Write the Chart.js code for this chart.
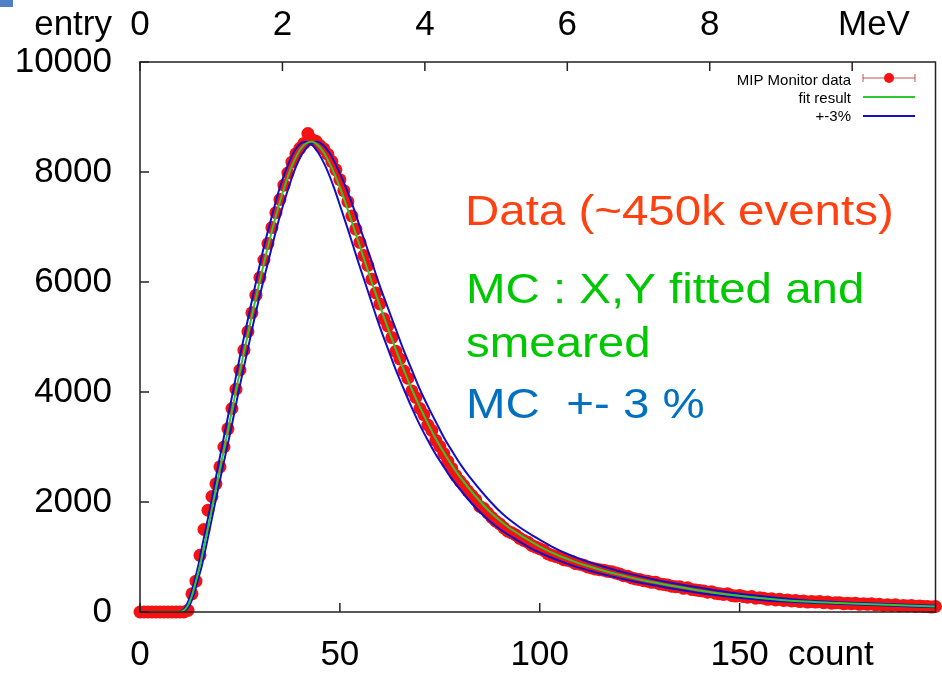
<!DOCTYPE html>
<html>
<head>
<meta charset="utf-8">
<script src="https://cdn.jsdelivr.net/npm/chart.js@4.4.1/dist/chart.umd.min.js"></script>
<style>
  html, body { margin: 0; padding: 0; background: #fff; }
  #wrap { width: 942px; height: 678px; position: relative; }
</style>
</head>
<body>
<div id="wrap"><canvas id="chartMip"></canvas></div>
<script>
/* MIP monitor: entries per count bin (bin index = count) */
const monitorData = [
  0, 0, 0, 0, 0, 0, 0, 0, 0, 0, 0, 0, 30, 330, 560, 1030, 1500, 1850, 2100, 2330,
  2640, 3000, 3330, 3700, 4050, 4400, 4760, 5100, 5440, 5760, 6080, 6400, 6700, 6990, 7260, 7500, 7760, 7980, 8180, 8330,
  8430, 8520, 8700, 8590, 8560, 8480, 8420, 8320, 8190, 8040, 7860, 7660, 7460, 7200, 6960, 6720, 6480, 6300, 6050, 5800,
  5600, 5330, 5200, 4990, 4740, 4600, 4380, 4250, 4020, 3900, 3700, 3590, 3400, 3300, 3120, 3010, 2880, 2740, 2610, 2480,
  2380, 2300, 2200, 2120, 2040, 1920, 1880, 1800, 1720, 1650, 1600, 1530, 1470, 1440, 1400, 1340, 1300, 1270, 1210, 1180,
  1150, 1120, 1060, 1030, 1010, 990, 950, 940, 920, 880, 870, 850, 820, 800, 780, 770, 760, 740, 730, 710,
  690, 660, 650, 620, 600, 590, 570, 560, 540, 540, 510, 500, 490, 470, 460, 460, 430, 440, 410, 400,
  390, 380, 360, 370, 340, 330, 320, 330, 300, 290, 300, 280, 270, 280, 250, 260, 250, 230, 240, 220,
  230, 210, 220, 200, 210, 190, 200, 180, 190, 180, 190, 170, 180, 160, 170, 170, 150, 160, 150, 160,
  140, 150, 140, 150, 130, 140, 120, 130, 120, 130, 110, 120, 110, 120, 100, 110, 100, 100, 90, 100
];

/* fit result (green curve) */
const fitCounts = [0, 10, 11, 12, 13, 14, 15, 16, 18, 20, 22, 24, 26, 28, 30, 32, 34, 36, 38, 40, 42, 43, 44,
  46, 48, 50, 52, 54, 56, 58, 60, 62, 64, 66, 68, 70, 72, 74, 76, 78, 80,
  84, 88, 92, 96, 100, 104, 108, 112, 116, 120, 128, 136, 145, 155, 165, 175, 185, 206];
const fitValues = [0, 0, 30, 120, 300, 560, 850, 1180, 1880, 2600, 3300, 4020, 4720, 5390, 6030, 6640, 7200, 7700, 8110, 8400, 8540, 8550, 8520,
  8350, 8070, 7720, 7310, 6870, 6430, 5990, 5570, 5160, 4770, 4400, 4050, 3730, 3430, 3150, 2900, 2670, 2460,
  2100, 1790, 1550, 1360, 1190, 1050, 935, 835, 750, 675, 545, 440, 335, 255, 196, 165, 135, 86];

/* +-3% curves (blue): same heights as the fit, read at shifted counts */
const plus3Counts = [0, 10.3, 11.3, 12.4, 13.4, 14.4, 15.5, 16.5, 18.5, 20.6, 22.7, 24.7, 26.8, 28.8, 30.9, 33.0, 35.0, 37.1, 39.1, 41.2, 43.3, 44.3, 45.3,
  47.4, 49.4, 51.5, 53.6, 55.6, 57.7, 59.7, 61.8, 63.9, 65.9, 68.0, 70.0, 72.1, 74.2, 76.2, 78.3, 80.3, 82.4,
  86.5, 90.6, 94.8, 98.9, 103.0, 107.1, 111.2, 115.4, 119.5, 123.6, 131.8, 140.1, 149.4, 159.7, 170.0, 180.3, 190.6, 212.2];
const minus3Counts = [0, 9.7, 10.7, 11.6, 12.6, 13.6, 14.6, 15.5, 17.5, 19.4, 21.3, 23.3, 25.2, 27.2, 29.1, 31.0, 33.0, 34.9, 36.9, 38.8, 40.7, 41.7, 42.7,
  44.6, 46.6, 48.5, 50.4, 52.4, 54.3, 56.3, 58.2, 60.1, 62.1, 64.0, 66.0, 67.9, 69.8, 71.8, 73.7, 75.7, 77.6,
  81.5, 85.4, 89.2, 93.1, 97.0, 100.9, 104.8, 108.6, 112.5, 116.4, 124.2, 131.9, 140.7, 150.4, 160.1, 169.8, 179.5, 199.8];

/* axes */
const yTicks = [0, 2000, 4000, 6000, 8000, 10000];
const countTicks = [0, 50, 100, 150];
const mevTicks = [0, 2, 4, 6, 8, 10];

const FONT = "'Liberation Sans', Arial, sans-serif";
const rojo = '#f51212';
const verde = '#2ec82e';
const azul = '#1010c8';

const toXY = (xs, ys) => xs.map((x, i) => ({ x: x, y: ys[i] }));

/* Marco, marcas hacia dentro, leyenda y textos */
const decoraciones = {
  id: 'decoraciones',
  afterDatasetsDraw(chart) {
    const { ctx, chartArea: a, scales } = chart;
    ctx.save();
    ctx.strokeStyle = '#222';
    ctx.lineWidth = 1.5;
    ctx.beginPath();
    yTicks.forEach(v => { const p = scales.y.getPixelForValue(v); ctx.moveTo(a.left, p); ctx.lineTo(a.left + 9, p); });
    countTicks.forEach(v => { const p = scales.x.getPixelForValue(v); ctx.moveTo(p, a.bottom); ctx.lineTo(p, a.bottom - 9); });
    mevTicks.forEach(v => { const p = scales.xTop.getPixelForValue(v); ctx.moveTo(p, a.top); ctx.lineTo(p, a.top + 9); });
    ctx.stroke();
    ctx.strokeRect(a.left, a.top, a.right - a.left, a.bottom - a.top);
    ctx.restore();
  },
  afterDraw(chart) {
    const { ctx } = chart;
    ctx.save();

    /* esquina azul de la diapositiva */
    ctx.fillStyle = '#4f7fc4';
    ctx.fillRect(0, 0, 13, 7);

    /* etiquetas de ejes */
    ctx.fillStyle = '#000';
    ctx.font = `35px ${FONT}`;
    ctx.textBaseline = 'middle';
    ctx.textAlign = 'right';
    ctx.fillText('entry', 112, 25);
    ctx.textAlign = 'left';
    ctx.fillText('MeV', 838, 25);
    ctx.fillText('count', 788, 655);

    /* leyenda */
    ctx.font = `15px ${FONT}`;
    ctx.textAlign = 'right';
    ctx.textBaseline = 'alphabetic';
    ctx.fillText('MIP Monitor data', 851, 85);
    ctx.fillText('fit result', 851, 103);
    ctx.fillText('+-3%', 851, 121);

    ctx.strokeStyle = '#c05050';
    ctx.lineWidth = 1;
    ctx.beginPath();
    ctx.moveTo(863, 78); ctx.lineTo(915, 78);
    ctx.moveTo(863, 74); ctx.lineTo(863, 82);
    ctx.moveTo(915, 74); ctx.lineTo(915, 82);
    ctx.stroke();
    ctx.fillStyle = rojo;
    ctx.beginPath(); ctx.arc(889, 78, 5, 0, Math.PI * 2); ctx.fill();

    ctx.lineWidth = 2;
    ctx.strokeStyle = verde;
    ctx.beginPath(); ctx.moveTo(863, 97); ctx.lineTo(915, 97); ctx.stroke();
    ctx.strokeStyle = azul;
    ctx.beginPath(); ctx.moveTo(863, 116); ctx.lineTo(915, 116); ctx.stroke();

    /* textos grandes (ligeramente ensanchados como en la diapositiva) */
    const texto = (t, x, y, color) => {
      ctx.save();
      ctx.translate(x, y);
      ctx.scale(1.13, 1);
      ctx.fillStyle = color;
      ctx.fillText(t, 0, 0);
      ctx.restore();
    };
    ctx.font = `42px ${FONT}`;
    ctx.textAlign = 'left';
    texto('Data (~450k events)', 465, 225, '#ff4010');
    texto('MC : X,Y fitted and', 466, 303, '#00c800');
    texto('smeared', 466, 357, '#00c800');
    texto('MC  +- 3 %', 466, 418, '#0070c0');

    ctx.restore();
  }
};

new Chart(document.getElementById('chartMip'), {
  type: 'scatter',
  data: {
    datasets: [
      {
        label: 'fit result',
        data: toXY(fitCounts, fitValues),
        showLine: true,
        borderColor: verde,
        borderWidth: 2,
        pointRadius: 0,
        cubicInterpolationMode: 'monotone',
        order: 1
      },
      {
        label: '+3%',
        data: toXY(plus3Counts, fitValues),
        showLine: true,
        borderColor: azul,
        borderWidth: 2,
        pointRadius: 0,
        cubicInterpolationMode: 'monotone',
        order: 2
      },
      {
        label: '-3%',
        data: toXY(minus3Counts, fitValues),
        showLine: true,
        borderColor: azul,
        borderWidth: 2,
        pointRadius: 0,
        cubicInterpolationMode: 'monotone',
        order: 2
      },
      {
        label: 'MIP Monitor data',
        data: monitorData.map((v, i) => ({ x: i, y: v })),
        showLine: false,
        pointRadius: 6.5,
        pointBackgroundColor: rojo,
        pointBorderColor: rojo,
        pointBorderWidth: 0,
        clip: false,
        order: 3
      }
    ]
  },
  options: {
    responsive: true,
    maintainAspectRatio: false,
    animation: false,
    layout: { padding: { left: 0, right: 3, top: 0, bottom: 0 } },
    plugins: { legend: { display: false }, tooltip: { enabled: false } },
    scales: {
      x: {
        type: 'linear',
        position: 'bottom',
        min: 0,
        max: 199,
        afterFit: s => { s.height = 66; },
        afterBuildTicks: s => { s.ticks = countTicks.map(v => ({ value: v })); },
        grid: { display: false, drawTicks: false },
        border: { display: false },
        ticks: {
          font: { family: FONT, size: 35 }, color: '#000', padding: 22, maxRotation: 0, autoSkip: false,
          callback: v => String(v)
        }
      },
      xTop: {
        type: 'linear',
        position: 'top',
        min: 0,
        max: 11.17,
        afterFit: s => { s.height = 62; },
        afterBuildTicks: s => { s.ticks = mevTicks.map(v => ({ value: v })); },
        grid: { display: false, drawTicks: false },
        border: { display: false },
        ticks: {
          font: { family: FONT, size: 35 }, color: '#000', padding: 16, maxRotation: 0, autoSkip: false,
          callback: v => (v === 10 ? '' : String(v))
        }
      },
      y: {
        type: 'linear',
        min: 0,
        max: 10000,
        afterFit: s => { s.width = 140; },
        afterBuildTicks: s => { s.ticks = yTicks.map(v => ({ value: v })); },
        grid: { display: false, drawTicks: false },
        border: { display: false },
        ticks: {
          font: { family: FONT, size: 35 }, color: '#000', padding: 28,
          callback: v => String(v)
        }
      }
    }
  },
  plugins: [decoraciones]
});
</script>
</body>
</html>
